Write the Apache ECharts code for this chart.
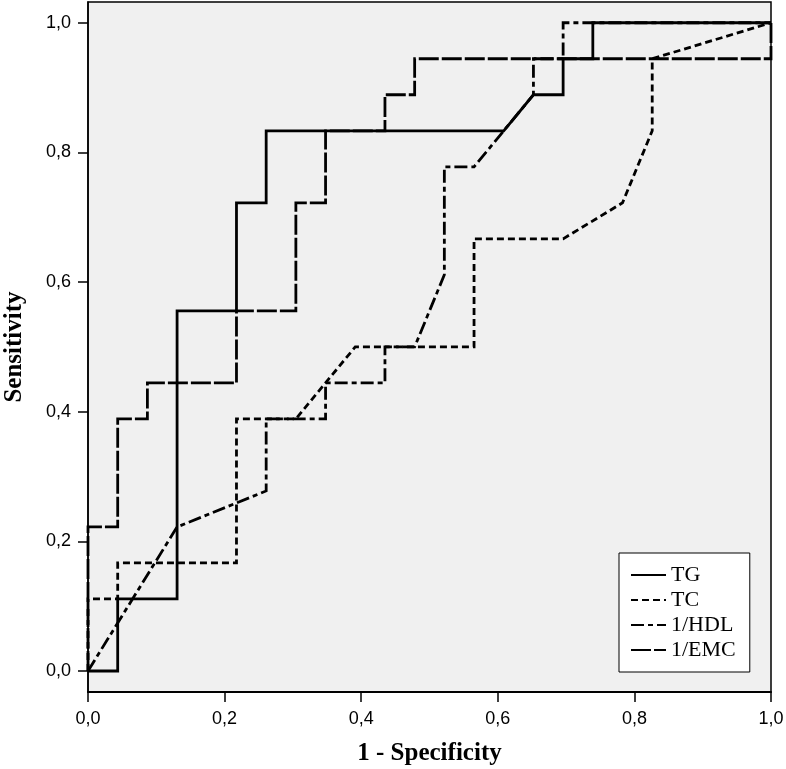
<!DOCTYPE html>
<html>
<head>
<meta charset="utf-8">
<script src="https://cdn.jsdelivr.net/npm/echarts@6/dist/echarts.min.js"></script>
<style>
html,body{margin:0;padding:0;background:#fff;}
#chart{width:786px;height:769px;}
</style>
</head>
<body>
<div id="chart"></div>
<script>
// ROC data: 23 negatives (x steps of 1/23), 18 positives (y steps of 1/18)
const N = 23, P = 18;
const tgX  = [0,1,1,3,3,5,5,6,6,14,15,16,16,17,17,23];
const tgY  = [0,0,2,2,10,10,13,13,15,15,16,16,17,17,18,18];
const tcX  = [0,0,1,1,5,5,7,9,13,13,16,18,19,19,23];
const tcY  = [0,2,2,3,3,7,7,9,9,12,12,13,15,17,18];
const hdlX = [0,3,6,6,8,8,10,10,11,12,12,13,14,15,15,16,16,23];
const hdlY = [0,4,5,7,7,8,8,9,9,11,14,14,15,16,17,17,18,18];
const emcX = [0,0,1,1,2,2,5,5,7,7,8,8,10,10,11,11,23,23];
const emcY = [0,4,4,7,7,8,8,10,10,13,13,15,15,16,16,17,17,18];
const seriesNames = ['TG','TC','1/HDL','1/EMC'];
const tickValues = [0,0.2,0.4,0.6,0.8,1.0];

function pts(xs, ys){ return xs.map((x,i)=>[x/N, ys[i]/P]); }
const fmt = v => v.toFixed(1).replace('.', ',');

const chart = echarts.init(document.getElementById('chart'), null, {renderer:'canvas'});
const labelFont = "'Liberation Sans',Arial,sans-serif";
const serif = "'Liberation Serif','DejaVu Serif',serif";

function mk(name, data, type, z){
  return {
    name, type:'line', data, symbol:'none', z,
    lineStyle:{color:'#000', width:2.8, type: type, cap:'butt', join:'miter'},
    itemStyle:{color:'#000'}
  };
}

chart.setOption({
  animation:false,
  backgroundColor:'#fff',
  grid:{left:88, right:15, top:2, bottom:77, outerBoundsMode:'none', containLabel:false,
        show:true, backgroundColor:'#f0f0f0', borderColor:'#000', borderWidth:1.5},
  xAxis:{
    type:'value', min:0, max:1,
    name:'1 - Specificity', nameLocation:'middle', nameGap:49,
    nameTextStyle:{fontFamily:serif, fontWeight:'bold', fontSize:25, color:'#000'},
    axisLine:{show:true, onZero:false, lineStyle:{color:'#000', width:2}},
    axisTick:{show:true, inside:false, length:10, lineStyle:{color:'#000', width:1.5}, customValues:tickValues},
    axisLabel:{customValues:tickValues, formatter:fmt, fontFamily:labelFont, fontSize:18, color:'#000', margin:18},
    splitLine:{show:false}
  },
  yAxis:{
    type:'value', min:-0.0324, max:1.032,
    name:'Sensitivity', nameLocation:'middle', nameGap:61, nameRotate:90,
    nameTextStyle:{fontFamily:serif, fontWeight:'bold', fontSize:25, color:'#000'},
    axisLine:{show:true, onZero:false, lineStyle:{color:'#000', width:1.5}},
    axisTick:{show:true, inside:false, length:10, lineStyle:{color:'#000', width:1.5}, customValues:tickValues},
    axisLabel:{customValues:tickValues, formatter:fmt, fontFamily:labelFont, fontSize:18, color:'#000', margin:17},
    splitLine:{show:false}
  },
  legend:{
    show:true,
    orient:'vertical', left:619, top:553,
    data:seriesNames,
    itemWidth:35, itemHeight:14, itemGap:3,
    padding:[11,14,11,11],
    backgroundColor:'#fff', borderColor:'#000', borderWidth:1,
    itemStyle:{opacity:0},
    textStyle:{fontFamily:serif, fontSize:22, color:'#000'},
    selectedMode:false
  },
  series:[
    mk('TG', pts(tgX,tgY), 'solid', 5),
    mk('TC', pts(tcX,tcY), [7,4], 4),
    mk('1/HDL', pts(hdlX,hdlY), [13,4,5,4], 3),
    mk('1/EMC', pts(emcX,emcY), [20,3], 2)
  ]
});
</script>
</body>
</html>
